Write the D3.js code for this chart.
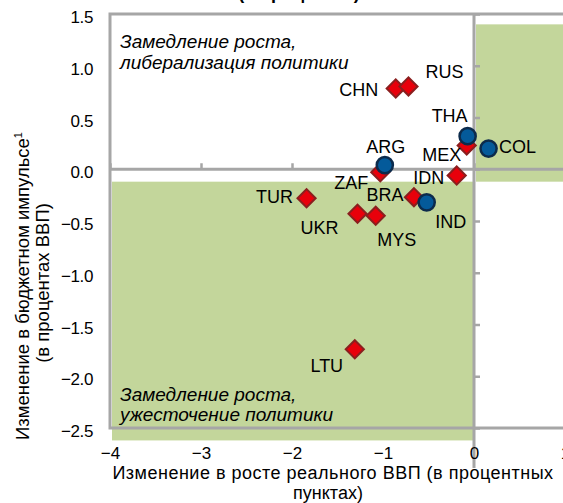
<!DOCTYPE html>
<html>
<head>
<meta charset="utf-8">
<script src="https://cdn.jsdelivr.net/npm/d3@7"></script>
<style>
  html, body { margin: 0; padding: 0; background: #fff; }
  svg { display: block; font-family: "Liberation Sans", Arial, sans-serif; }
</style>
</head>
<body>
<svg id="chart" width="563" height="503"></svg>
<script>
// Country codes, change in real GDP growth (pp) and change in fiscal impulse (% of GDP)
const countries    = ["CHN", "RUS", "THA", "MEX", "COL", "ARG", "ZAF", "IDN", "BRA", "IND", "MYS", "UKR", "TUR", "LTU"];
const growthChange = [-0.86, -0.72, -0.07, -0.08, 0.16, -0.98, -1.03, -0.19, -0.66, -0.52, -1.08, -1.28, -1.84, -1.31];
const fiscalChange = [0.78, 0.80, 0.32, 0.23, 0.20, 0.04, -0.03, -0.06, -0.27, -0.32, -0.45, -0.43, -0.28, -1.74];
const markerKind   = ["diamond", "diamond", "circle", "diamond", "circle", "circle", "diamond", "diamond", "diamond", "circle", "diamond", "diamond", "diamond", "diamond"];

// Axis ticks
const xTicks = [-4, -3, -2, -1, 0, 1];
const yTicks = [1.5, 1.0, 0.5, 0.0, -0.5, -1.0, -1.5, -2.0, -2.5];

// Shaded quadrants: [x0, x1, y0, y1] in data units
const shadeUpperRight = [0, 1.2, -0.12, 1.4];
const shadeLowerLeft  = [-4, 0, -2.62, -0.12];

// Label placement relative to each marker (pixels)
const labelOffsets = {
  CHN: [-37, 1], RUS: [36, -15], THA: [-18, -21], MEX: [-25, 9], COL: [29, -2],
  ARG: [1, -19], ZAF: [-29, 10], IDN: [-28, 2], BRA: [-29, -3], IND: [24, 19],
  MYS: [21, 24], UKR: [-38, 14], TUR: [-32, -2], LTU: [-28, 16]
};

const svg = d3.select("#chart");
const gray = "#a6a6a6";
const green = "#c3d69b";

const x = d3.scaleLinear().domain([-4, 1]).range([110, 565]);
const y = d3.scaleLinear().domain([-2.5, 1.5]).range([428, 14]);

// Shaded regions
[shadeUpperRight, shadeLowerLeft].forEach(r => {
  svg.append("rect")
    .attr("x", x(r[0]) + 2)
    .attr("y", y(r[3]))
    .attr("width", x(r[1]) - x(r[0]) - 1)
    .attr("height", y(r[2]) - y(r[3]))
    .attr("fill", green);
});

// Plot frame
svg.append("rect")
  .attr("x", x(-4)).attr("y", y(1.5))
  .attr("width", x(1) - x(-4) + 20).attr("height", y(-2.5) - y(1.5))
  .attr("fill", "none").attr("stroke", gray).attr("stroke-width", 3);

// Zero lines with ticks
const hAxis = svg.append("g")
  .attr("transform", `translate(0,${y(0)})`)
  .call(d3.axisTop(x).tickValues(xTicks).tickSize(6).tickFormat(""));
const vAxis = svg.append("g")
  .attr("transform", `translate(${x(0)},0)`)
  .call(d3.axisRight(y).tickValues(yTicks).tickSize(6).tickFormat(""));
[hAxis, vAxis].forEach(g => {
  g.select(".domain").attr("stroke", gray).attr("stroke-width", 3);
  g.selectAll(".tick line").attr("stroke", gray).attr("stroke-width", 2.5);
});
hAxis.select(".domain").attr("d", `M${x(-4)},0H${x(1) + 10}`);
vAxis.select(".domain").attr("d", `M0,${y(1.5)}V${y(-2.5) + 40}`);

// Outer tick labels
const yAxis = svg.append("g")
  .attr("transform", `translate(${x(-4)},0)`)
  .call(d3.axisLeft(y).tickValues(yTicks).tickSize(0).tickPadding(17).tickFormat(d3.format(".1f")));
yAxis.select(".domain").remove();
yAxis.selectAll("text")
  .attr("font-size", 17).attr("font-family", "Liberation Sans, Arial, sans-serif")
  .attr("fill", "#000").attr("letter-spacing", "-0.4").attr("dy", "0.5em");

const xAxis = svg.append("g")
  .attr("transform", `translate(0,${y(-2.5)})`)
  .call(d3.axisBottom(x).tickValues(xTicks).tickSize(0).tickPadding(19).tickFormat(d3.format("d")));
xAxis.select(".domain").remove();
xAxis.selectAll("text")
  .attr("font-size", 17).attr("font-family", "Liberation Sans, Arial, sans-serif")
  .attr("fill", "#000");

// Quadrant captions
const cap = svg.append("g").attr("font-size", 19).attr("font-style", "italic").attr("fill", "#000");
cap.append("text").attr("x", 120).attr("y", 48).text("Замедление роста,");
cap.append("text").attr("x", 120).attr("y", 69).text("либерализация политики");
cap.append("text").attr("x", 120).attr("y", 401).text("Замедление роста,");
cap.append("text").attr("x", 120).attr("y", 421).text("ужесточение политики");

// Markers
const pts = countries.map((c, i) => ({ c, gx: growthChange[i], fy: fiscalChange[i], kind: markerKind[i] }));
const diamond = d3.symbol().type(d3.symbolSquare).size(165);
const circle = d3.symbol().type(d3.symbolCircle).size(205);

svg.append("g").selectAll("path")
  .data(pts.filter(d => d.kind === "diamond"))
  .join("path")
  .attr("d", diamond)
  .attr("transform", d => `translate(${x(d.gx)},${y(d.fy)}) rotate(45)`)
  .attr("fill", "#e8000b").attr("stroke", "#8a1f1f").attr("stroke-width", 2);

svg.append("g").selectAll("path")
  .data(pts.filter(d => d.kind === "circle"))
  .join("path")
  .attr("d", circle)
  .attr("transform", d => `translate(${x(d.gx)},${y(d.fy)})`)
  .attr("fill", "#045a9a").attr("stroke", "#0c2b4c").attr("stroke-width", 2.5);

// Country labels
svg.append("g").attr("font-size", 18).attr("fill", "#000").attr("text-anchor", "middle")
  .selectAll("text")
  .data(pts)
  .join("text")
  .attr("x", d => x(d.gx) + labelOffsets[d.c][0])
  .attr("y", d => y(d.fy) + labelOffsets[d.c][1] + 6.5)
  .text(d => d.c);

// Axis titles
const xt = svg.append("g").attr("font-size", 18).attr("fill", "#000").attr("text-anchor", "middle");
xt.append("text").attr("x", 333).attr("y", 479).attr("letter-spacing", "0.5")
  .text("Изменение  в росте реального ВВП (в процентных");
xt.append("text").attr("x", 328).attr("y", 499).text("пунктах)");

const yt = svg.append("g").attr("font-size", 18.5).attr("fill", "#000").attr("text-anchor", "middle");
const yl1 = yt.append("text").attr("transform", "translate(28.5,286) rotate(-90)");
yl1.append("tspan").text("Изменение  в бюджетном импульсе");
yl1.append("tspan").attr("font-size", 11).attr("dy", -7).text("1");
yt.append("text").attr("transform", "translate(48.5,283) rotate(-90)").text("(в процентах  ВВП)");

// Chart title (partly above the visible area)
svg.append("text").attr("x", 299).attr("y", -1.5).attr("text-anchor", "middle")
  .attr("font-size", 18).attr("font-weight", "bold").text("(в процентах)");
</script>
</body>
</html>
